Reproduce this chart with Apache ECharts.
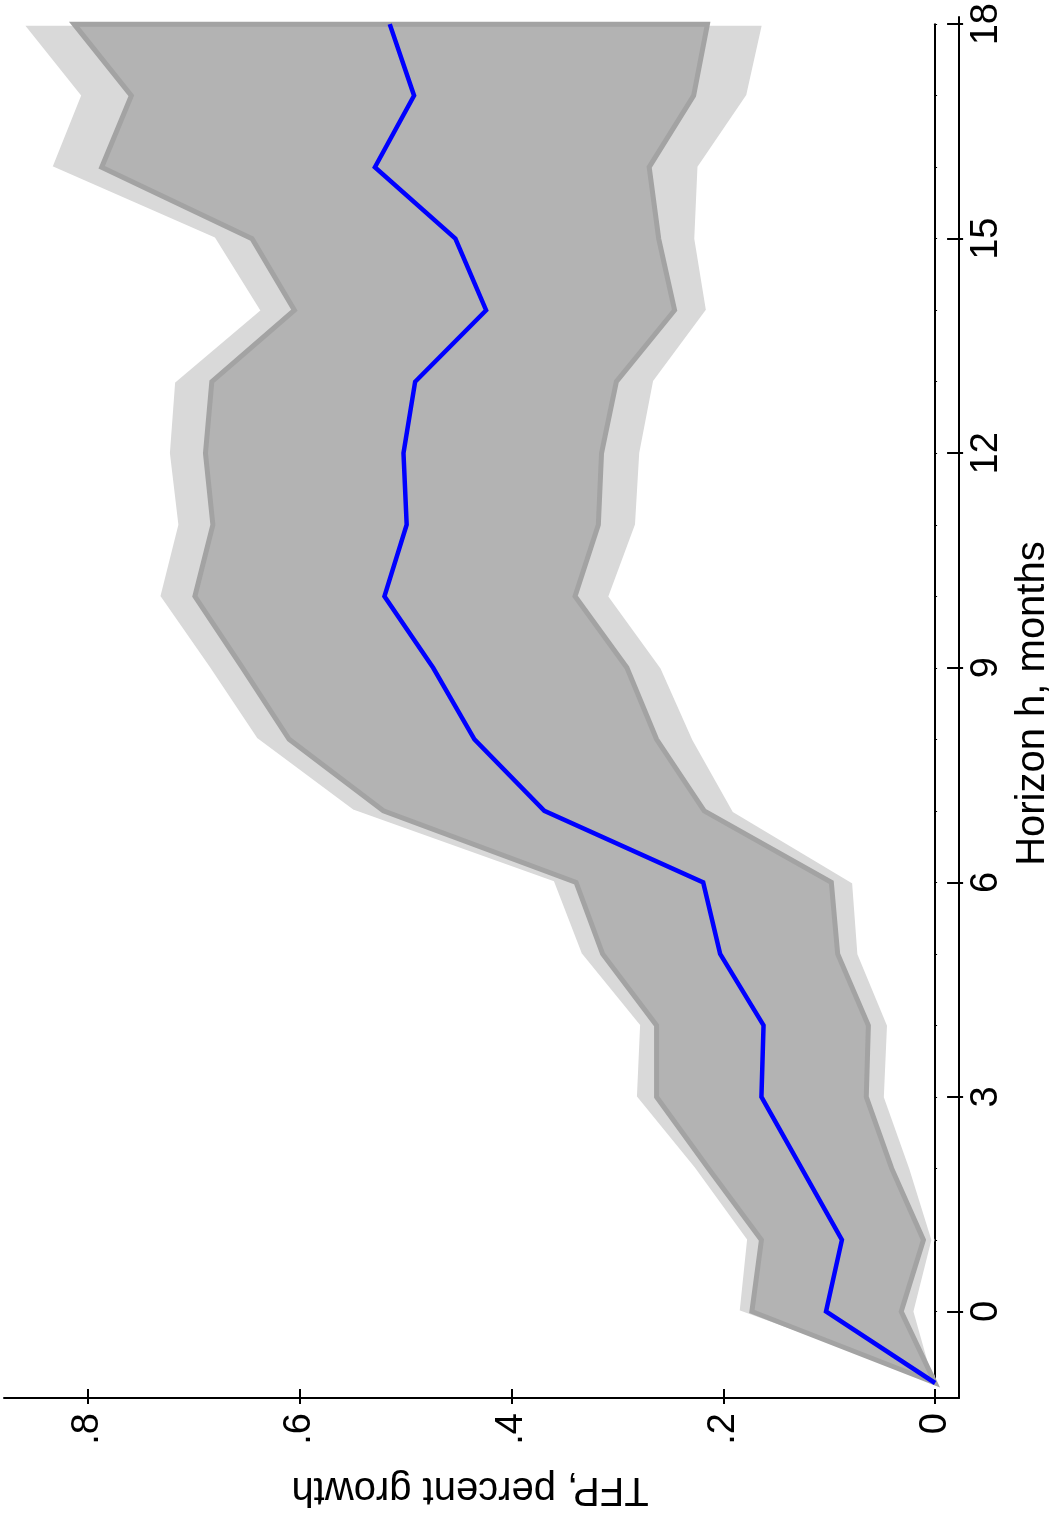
<!DOCTYPE html>
<html>
<head>
<meta charset="utf-8">
<script src="https://cdn.jsdelivr.net/npm/echarts@6/dist/echarts.min.js"></script>
<style>
html,body{margin:0;padding:0;background:#fff;overflow:hidden;width:1061px;height:1514px;}
#chart{width:1061px;height:1514px;}
</style>
</head>
<body>
<div id="chart"></div>
<script>
// Horizon h (months)
const horizon = [-1, 0, 1, 2, 3, 4, 5, 6, 7, 8, 9, 10, 11, 12, 13, 14, 15, 16, 17, 18];
// Point estimate of TFP response (percent growth)
const pointEstimate = [0, 0.103, 0.088, 0.126, 0.164, 0.162, 0.203, 0.219, 0.369, 0.435, 0.474, 0.520, 0.499, 0.502, 0.491, 0.424, 0.453, 0.529, 0.492, 0.515];
// Inner (darker) confidence band
const band68Upper = [0, 0.173, 0.164, 0.214, 0.263, 0.263, 0.314, 0.339, 0.521, 0.610, 0.654, 0.699, 0.682, 0.689, 0.683, 0.605, 0.645, 0.787, 0.759, 0.813];
const band68Lower = [0, 0.032, 0.011, 0.041, 0.065, 0.063, 0.092, 0.098, 0.218, 0.263, 0.291, 0.340, 0.318, 0.315, 0.301, 0.246, 0.261, 0.270, 0.228, 0.215];
// Outer (lighter) confidence band
const band90Upper = [0, 0.186, 0.179, 0.228, 0.283, 0.280, 0.335, 0.361, 0.550, 0.641, 0.686, 0.733, 0.716, 0.724, 0.719, 0.639, 0.681, 0.835, 0.808, 0.862];
const band90Lower = [0, 0.019, 0.002, 0.023, 0.047, 0.044, 0.072, 0.077, 0.190, 0.228, 0.258, 0.307, 0.282, 0.278, 0.265, 0.215, 0.226, 0.223, 0.177, 0.162];
// Tick labels
const tfpTicks = [0, 0.2, 0.4, 0.6, 0.8];
const horizonTicks = [0, 3, 6, 9, 12, 15, 18];
const tfpTitle = 'TFP, percent growth';
const horizonTitle = 'Horizon h, months';

const FONT = '"Liberation Sans", Arial, Helvetica, sans-serif';
const TFP_MAX = 0.8783;

function bandSeries(lo, hi, fill, stroke, width, z) {
  return {
    type: 'custom',
    coordinateSystem: 'cartesian2d',
    xAxisIndex: 0, yAxisIndex: 0,
    silent: true,
    z: z,
    data: horizon.map((h, i) => [lo[i], h, hi[i]]),
    encode: { x: [0, 2], y: 1 },
    renderItem: function (params, api) {
      if (params.dataIndex !== 0) return null;
      const pts = [];
      for (let i = 0; i < horizon.length; i++) pts.push(api.coord([hi[i], horizon[i]]));
      for (let i = horizon.length - 1; i >= 0; i--) pts.push(api.coord([lo[i], horizon[i]]));
      return {
        type: 'polygon',
        shape: { points: pts },
        style: { fill: fill, stroke: stroke, lineWidth: width, lineJoin: 'miter' }
      };
    }
  };
}

const chart = echarts.init(document.getElementById('chart'), null, { renderer: 'canvas', width: 1061, height: 1514 });
chart.setOption({
  backgroundColor: '#ffffff',
  animation: false,
  textStyle: { fontFamily: FONT },
  grid: [
    { left: 5, right: 114, top: 24, bottom: 122, containLabel: false },
    { left: 4, right: 102, top: 17, bottom: 116, containLabel: false }
  ],
  xAxis: [
    {
      type: 'value', gridIndex: 0, min: 0, max: TFP_MAX, inverse: true,
      position: 'bottom', offset: 6,
      axisLine: { show: false, onZero: false },
      splitLine: { show: false },
      axisTick: { show: true, customValues: tfpTicks, length: 15, lineStyle: { color: '#000', width: 2 } },
      axisLabel: {
        show: true, customValues: tfpTicks, rotate: 90, margin: 24,
        fontSize: 38, color: '#000', fontFamily: FONT,
        formatter: v => (v === 0 ? '0' : String(Math.round(v * 10) / 10).replace(/^0\./, '.'))
      },
      name: tfpTitle, nameLocation: 'middle', nameRotate: 180, nameGap: 80,
      nameTextStyle: { fontSize: 40, color: '#000', fontFamily: FONT }
    },
    {
      type: 'value', gridIndex: 1, min: 0, max: 1, position: 'bottom',
      axisLine: { show: true, onZero: false, lineStyle: { color: '#000', width: 2 } },
      axisTick: { show: false }, axisLabel: { show: false }, splitLine: { show: false }
    }
  ],
  yAxis: [
    {
      type: 'value', gridIndex: 0, min: -1, max: 18, position: 'right', offset: 12,
      axisLine: { show: false, onZero: false },
      splitLine: { show: false },
      axisTick: { show: true, customValues: horizonTicks, length: 16, lineStyle: { color: '#000', width: 2 } },
      axisLabel: {
        show: true, customValues: horizonTicks, rotate: 90, margin: 20,
        fontSize: 38, color: '#000', fontFamily: FONT
      },
      name: horizonTitle, nameLocation: 'middle', nameRotate: 90, nameGap: 62,
      nameTextStyle: { fontSize: 40, color: '#000', fontFamily: FONT }
    },
    {
      type: 'value', gridIndex: 0, min: -1, max: 18, interval: 1, position: 'right', offset: 0,
      axisLine: { show: true, onZero: false, lineStyle: { color: '#000', width: 2 } },
      splitLine: { show: false },
      axisTick: { show: true, length: 2, lineStyle: { color: '#000', width: 1 } },
      axisLabel: { show: false }
    },
    {
      type: 'value', gridIndex: 1, min: 0, max: 1, position: 'right',
      axisLine: { show: true, onZero: false, lineStyle: { color: '#000', width: 2 } },
      axisTick: { show: false }, axisLabel: { show: false }, splitLine: { show: false }
    }
  ],
  series: [
    bandSeries(band90Lower, band90Upper, '#d9d9d9', '#ffffff', 3, 1),
    bandSeries(band68Lower, band68Upper, '#b3b3b3', '#a3a3a3', 5, 2),
    {
      type: 'line', xAxisIndex: 0, yAxisIndex: 0, z: 3,
      data: horizon.map((h, i) => [pointEstimate[i], h]),
      symbol: 'none', silent: true,
      lineStyle: { color: '#0000ff', width: 4.5, join: 'miter' }
    }
  ]
});
</script>
</body>
</html>
